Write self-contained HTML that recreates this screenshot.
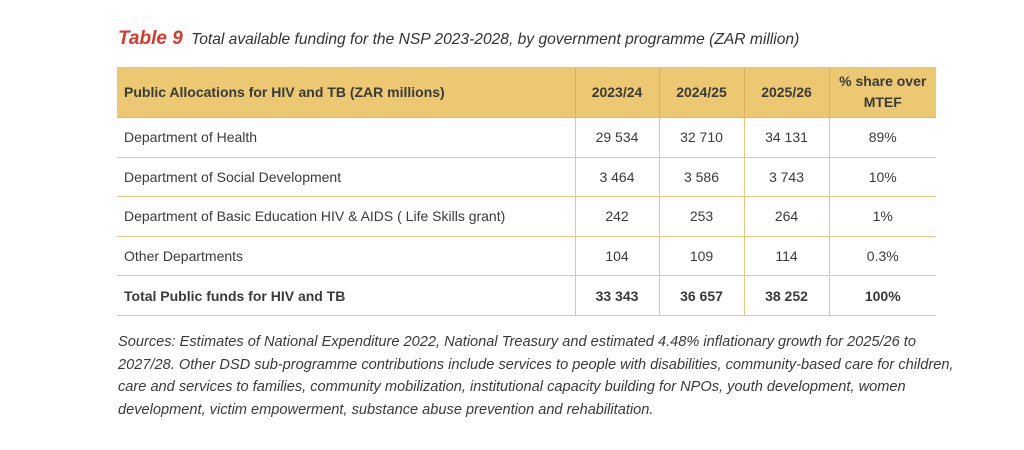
<!DOCTYPE html>
<html><head><meta charset="utf-8"><style>
body{margin:0;width:1024px;height:450px;background:#fff;font-family:"Liberation Sans",sans-serif;color:#3a3a3a;position:relative;overflow:hidden}
.title{position:absolute;left:118px;top:28px;font-style:italic;font-size:15.6px;color:#333;white-space:nowrap}
.title b{color:#d63a2c;font-size:19px;margin-right:4px}
table{position:absolute;left:117px;top:67px;border-collapse:collapse;font-size:14px}
td,th{border-bottom:1.5px solid #efc679;padding:0;height:38.5px}
th{background:#ebc871;font-weight:bold;height:50px;color:#3a3a3a;border-bottom:1.5px solid #e6b65c;line-height:21px}
td+td,th+th{border-left:1.5px solid #efc679;text-align:center}
th+th{border-left-color:#e0b060}
td:first-child,th:first-child{text-align:left;padding-left:7px}
tr.tot td{font-weight:bold;height:39px}
.note{position:absolute;left:118px;top:331px;width:900px;font-style:italic;font-size:14.6px;line-height:22.5px;color:#3a3a3a;white-space:nowrap}
</style></head><body>
<div class="title"><b>Table 9</b> Total available funding for the NSP 2023-2028, by government programme (ZAR million)</div>
<table>
<colgroup><col style="width:458px"><col style="width:84px"><col style="width:85px"><col style="width:85px"><col style="width:107px"></colgroup>
<tr><th>Public Allocations for HIV and TB (ZAR millions)</th><th>2023/24</th><th>2024/25</th><th>2025/26</th><th>% share over<br>MTEF</th></tr>
<tr><td>Department of Health</td><td>29 534</td><td>32 710</td><td>34 131</td><td>89%</td></tr>
<tr><td>Department of Social Development</td><td>3 464</td><td>3 586</td><td>3 743</td><td>10%</td></tr>
<tr><td>Department of Basic Education HIV &amp; AIDS ( Life Skills grant)</td><td>242</td><td>253</td><td>264</td><td>1%</td></tr>
<tr><td>Other Departments</td><td>104</td><td>109</td><td>114</td><td>0.3%</td></tr>
<tr class="tot"><td>Total Public funds for HIV and TB</td><td>33 343</td><td>36 657</td><td>38 252</td><td>100%</td></tr>
</table>
<div class="note">Sources: Estimates of National Expenditure 2022, National Treasury and estimated 4.48% inflationary growth for 2025/26 to<br>2027/28. Other DSD sub-programme contributions include services to people with disabilities, community-based care for children,<br>care and services to families, community mobilization, institutional capacity building for NPOs, youth development, women<br>development, victim empowerment, substance abuse prevention and rehabilitation.</div>
</body></html>
